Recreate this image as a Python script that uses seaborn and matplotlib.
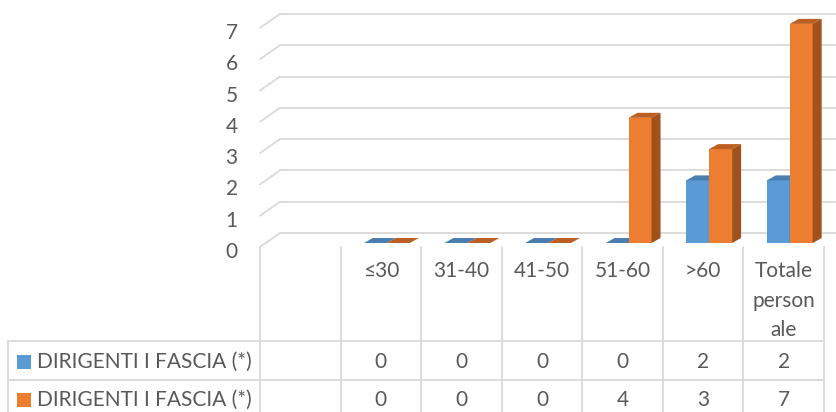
import numpy as np
import pandas as pd
import matplotlib.pyplot as plt
import seaborn as sns
from matplotlib.patches import Polygon, Rectangle
from matplotlib.transforms import blended_transform_factory, ScaledTranslation

# data
categories = ["", "≤30", "31-40", "41-50", "51-60", ">60", "Totale personale"]
header_labels = ["", "≤30", "31-40", "41-50", "51-60", ">60", "Totale\nperson\nale"]
series_names = ["DIRIGENTI I FASCIA (*)", "DIRIGENTI I FASCIA (*)"]
values_a = [np.nan, 0, 0, 0, 0, 2, 2]
values_b = [np.nan, 0, 0, 0, 4, 3, 7]
y_ticks = [0, 1, 2, 3, 4, 5, 6, 7]

blue, orange = "#5B9BD5", "#ED7D31"
shade_top = ["#4A7EB0", "#BC5F22"]
shade_side = ["#41709C", "#A0511C"]
grid_c = "#D9D9D9"
text_c = "#595959"

sns.set_theme(style="white")
plt.rcParams['font.family'] = ['Lato', 'DejaVu Sans']
FS = 15

df = pd.DataFrame({
    "cat": categories * 2,
    "serie": ["a"] * len(categories) + ["b"] * len(categories),
    "val": values_a + values_b,
})

W, H = 837, 412
x0, x1 = 260, 824
px_x = (x1 - x0) / len(categories)
y_base = 247
px_y = 31.3

fig = plt.figure(figsize=(W / 100, H / 100), dpi=100)
ax = fig.add_axes([x0 / W, (H - y_base) / H, (x1 - x0) / W, 7 * px_y / H])

sns.barplot(data=df, x="cat", y="val", hue="serie", order=categories,
            palette=[blue, orange], width=0.57, gap=0, saturation=1,
            errorbar=None, legend=False, ax=ax)
ax.set_xlim(-0.5, len(categories) - 0.5)
ax.set_ylim(0, 7)

# pseudo 3d: bars sit a bit behind the front plane
fdx, fdy = 6 / px_x, 4 / px_y
bdx, bdy = 9 / px_x, 5 / px_y
n = len(categories)
for p in list(ax.patches):
    h = p.get_height()
    if not np.isfinite(h):
        continue
    s = 0 if p.get_facecolor()[2] > 0.5 else 1
    p.set_x(p.get_x() + fdx)
    p.set_y(fdy)
    p.set_zorder(3 + s * 2)
    p.set_edgecolor("none")
    p.set_clip_on(False)
    x, y, w = p.get_x(), p.get_y(), p.get_width()
    top = [(x, y + h), (x + w, y + h), (x + w + bdx, y + h + bdy), (x + bdx, y + h + bdy)]
    side = [(x + w, y), (x + w, y + h), (x + w + bdx, y + h + bdy), (x + w + bdx, y + bdy)]
    ax.add_patch(Polygon(top, closed=True, fc=shade_top[s], ec="none", zorder=3 + s * 2, clip_on=False))
    ax.add_patch(Polygon(side, closed=True, fc=shade_side[s], ec="none", zorder=3 + s * 2, clip_on=False))

# back wall gridlines
gdx, gdy = 20 / px_x, 14 / px_y
xr = (W - x0) / px_x - 0.5
for k in y_ticks:
    ax.plot([-0.5, -0.5 + gdx], [k, k + gdy], color=grid_c, lw=1.3, clip_on=False, zorder=0.5)
    ax.plot([-0.5 + gdx, xr], [k + gdy, k + gdy], color=grid_c, lw=1.3, clip_on=False, zorder=0.5)

ax.set_yticks(y_ticks)
ax.set_xticks([])
ax.set_xlabel("")
ax.set_ylabel("")
ax.tick_params(axis="y", length=0, pad=16, labelcolor=text_c, labelsize=FS)
shift = ScaledTranslation(0, -3 / 100, fig.dpi_scale_trans)
for t in ax.yaxis.get_major_ticks():
    t.label1.set_transform(t.label1.get_transform() + shift)
sns.despine(ax=ax, left=True, bottom=True)
ax.patch.set_alpha(0)

# data table below the chart
ax_t = fig.add_axes([0, 0, 1, 1], zorder=-1)
ax_t.set_xlim(0, W)
ax_t.set_ylim(H, 0)
ax_t.axis("off")
bt = blended_transform_factory(ax.transData, ax_t.transData)

for i in range(n + 1):
    ax_t.plot([i - 0.5, i - 0.5], [y_base, H + 2], color=grid_c, lw=1.3, transform=bt)
ax_t.plot([8, 8], [341, H + 2], color=grid_c, lw=1.3)
for yy in [341, 380]:
    ax_t.plot([8, x1], [yy, yy], color=grid_c, lw=1.3)

for i, lab in enumerate(header_labels):
    ax_t.text(i, 261, lab, ha="center", va="top", color=text_c, fontsize=FS,
              linespacing=1.6, transform=bt)

row_y = [362, 400]
for s, (name, vals, col) in enumerate(zip(series_names, [values_a, values_b], [blue, orange])):
    ax_t.add_patch(Rectangle((17, row_y[s] - 7), 14, 14, fc=col, ec="none"))
    ax_t.text(37, row_y[s], name, ha="left", va="center", color=text_c, fontsize=FS)
    for i, v in enumerate(vals):
        if np.isfinite(v):
            ax_t.text(i, row_y[s], f"{v:g}", ha="center", va="center", color=text_c,
                      fontsize=FS, transform=bt)

fig.savefig("out.png", dpi=100, facecolor="white")
